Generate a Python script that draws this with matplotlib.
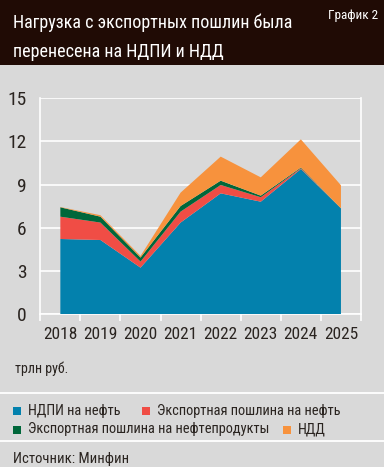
import numpy as np
import matplotlib
matplotlib.use("Agg")
import matplotlib.pyplot as plt
from matplotlib import font_manager
from matplotlib.patches import Rectangle

years = ["2018", "2019", "2020", "2021", "2022", "2023", "2024", "2025"]
ndpi_oil = [5.23, 5.16, 3.24, 6.37, 8.40, 7.82, 10.09, 7.36]
export_oil = [1.55, 1.21, 0.42, 0.76, 0.58, 0.31, 0.05, 0.0]
export_products = [0.65, 0.41, 0.28, 0.39, 0.30, 0.11, 0.05, 0.0]
ndd = [0.02, 0.10, 0.11, 0.93, 1.67, 1.27, 1.96, 1.60]

series_names = ["НДПИ на нефть", "Экспортная пошлина на нефть",
                "Экспортная пошлина на нефтепродукты", "НДД"]
colors = ["#0381AD", "#F04D45", "#00673A", "#F7923D"]

BG = "#D9D9D9"
HEADER = "#200B05"
TEXT = "#2A2420"

available = {f.name for f in font_manager.fontManager.ttflist}
narrow = next((f for f in ["Liberation Sans Narrow", "Roboto Condensed", "Roboto", "DejaVu Sans"]
               if f in available), "DejaVu Sans")
plt.rcParams["font.family"] = [narrow, "DejaVu Sans"]

fig = plt.figure(figsize=(3.84, 4.67), dpi=100, facecolor=BG)

# header band
fig.patches.append(Rectangle((0, 1 - 65 / 467), 1, 65 / 467, transform=fig.transFigure,
                             facecolor=HEADER, edgecolor="none", zorder=0))
fig.text(13 / 384, 1 - 28 / 467, "Нагрузка с экспортных пошлин была", color="white",
         fontsize=13, va="baseline", ha="left")
fig.text(13 / 384, 1 - 57 / 467, "перенесена на НДПИ и НДД", color="white",
         fontsize=13, va="baseline", ha="left")
fig.text(378 / 384, 1 - 19 / 467, "График 2", color="white", fontsize=9.5,
         va="baseline", ha="right")

ax = fig.add_axes([40.3 / 384, 1 - 314.3 / 467, 320.7 / 384, 216 / 467])
ax.set_facecolor(BG)
x = np.arange(len(years))
ax.stackplot(x, ndpi_oil, export_oil, export_products, ndd, colors=colors,
             linewidth=0, zorder=3)
ax.set_xlim(-0.5, len(years) - 0.5)
ax.set_ylim(0, 15)
ax.set_yticks([0, 3, 6, 9, 12, 15])
ax.yaxis.grid(True, color="white", linewidth=1.2, zorder=1)
ax.set_axisbelow(True)
ax.tick_params(axis="y", length=0, pad=10, labelsize=14, labelcolor=TEXT)
ax.set_xticks(x, years)
ax.tick_params(axis="x", which="major", length=0, pad=9, labelsize=12.5, labelcolor=TEXT)
ax.set_xticks(np.arange(-0.5, len(years), 1), minor=True)
ax.tick_params(axis="x", which="minor", length=5, width=1.2, color="white")
for side in ["left", "right", "bottom"]:
    ax.spines[side].set_color("white")
    ax.spines[side].set_linewidth(1.2)
ax.spines["top"].set_visible(False)

fig.text(15 / 384, 1 - 373 / 467, "трлн руб.", color=TEXT, fontsize=10, va="baseline")

# separator lines
for yy in [393.3, 440.7]:
    fig.add_artist(plt.Line2D([0, 1], [1 - yy / 467] * 2, transform=fig.transFigure,
                              color="white", linewidth=1.3))

# legend rows
legend_pos = [(13, 410.5), (142, 410.5), (13, 429.5), (283, 429.5)]
for (lx, ly), name, c in zip(legend_pos, series_names, colors):
    fig.patches.append(Rectangle((lx / 384, 1 - (ly + 4) / 467), 8 / 384, 8 / 467,
                                 transform=fig.transFigure, facecolor=c, edgecolor="none"))
    fig.text((lx + 15) / 384, 1 - ly / 467, name, color=TEXT, fontsize=10.4, va="center")

fig.text(13 / 384, 1 - 463 / 467, "Источник: Минфин", color=TEXT, fontsize=10.5, va="baseline")

fig.savefig("out.png", dpi=100, facecolor=BG)
